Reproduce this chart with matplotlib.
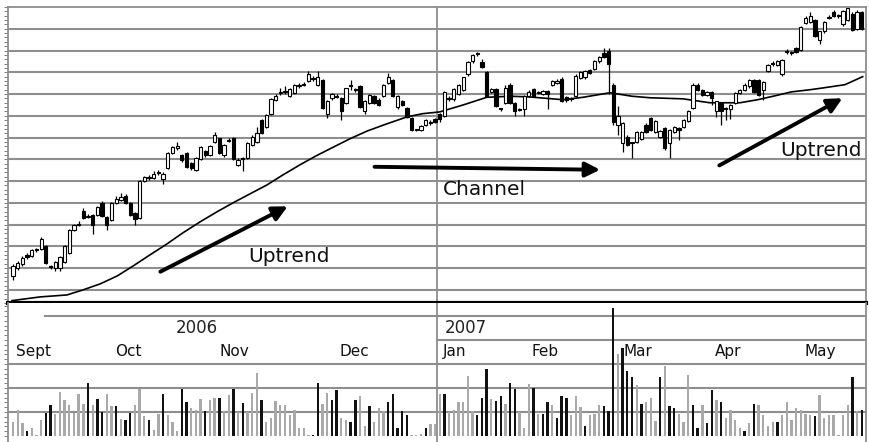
import matplotlib
matplotlib.use("Agg")
import matplotlib.pyplot as plt
import numpy as np

# Daily candles (Sept 2006 - May 2007), price in grid-line units
OPEN = [0.65, 1.0, 1.2, 1.6, 1.55, 1.85, 1.9, 2.0, 1.1, 1.0,
        1.0, 1.3, 1.7, 2.75, 3.0, 3.65, 3.35, 3.45, 3.45, 4.0,
        3.35, 3.2, 4.0, 4.15, 4.3, 4.0, 3.55, 3.3, 5.0, 5.15,
        5.15, 5.38, 5.1, 5.6, 6.3, 6.5, 6.2, 6.3, 5.85, 5.5,
        6.0, 6.4, 6.2, 6.8, 6.97, 6.2, 6.85, 7.0, 5.75, 6.05,
        6.05, 6.65, 6.8, 7.8, 7.5, 8.1, 8.75, 9.05, 9.1, 8.9,
        9.05, 9.35, 9.45, 9.6, 9.75, 9.4, 9.65, 8.1, 8.8, 8.9,
        8.8, 8.6, 9.4, 9.2, 9.35, 8.2, 8.6, 8.9, 8.75, 8.9,
        9.5, 9.65, 8.4, 8.7, 8.35, 7.9, 7.35, 7.35, 7.6, 7.7,
        7.85, 8.1, 8.0, 8.8, 8.77, 9.0, 9.2, 9.9, 10.5, 10.82,
        10.46, 10.0, 9.1, 9.23, 8.32, 8.6, 9.4, 8.6, 8.3, 8.3,
        8.9, 9.23, 9.05, 9.0, 9.15, 9.4, 9.5, 9.7, 8.85, 8.78,
        8.9, 9.75, 9.77, 10.1, 10.15, 10.5, 10.9, 11.0, 9.4, 7.6,
        6.74, 7.05, 6.76, 6.8, 6.95, 7.6, 7.9, 7.27, 7.05, 7.43,
        6.74, 7.27, 7.45, 7.5, 7.75, 8.35, 9.43, 9.2, 8.97, 9.1,
        8.2, 8.6, 8.32, 8.3, 8.6, 9.05, 9.2, 9.36, 9.66, 9.66,
        9.2, 10.05, 10.38, 10.35, 9.9, 10.98, 10.92, 11.1, 11.04, 12.27,
        12.3, 12.4, 11.5, 11.88, 12.5, 12.75, 12.62, 12.2, 12.4, 12.7,
        12.0, 12.75]
CLOSE = [1.12, 1.25, 1.45, 1.5, 1.85, 1.83, 2.35, 1.25, 1.05, 1.3,
         1.5, 2.0, 2.75, 3.0, 3.05, 3.3, 3.4, 3.0, 3.8, 3.4,
         3.0, 4.0, 4.2, 4.25, 4.0, 3.45, 3.25, 5.0, 5.2, 5.2,
         5.35, 5.4, 5.35, 6.3, 6.55, 6.6, 5.97, 5.65, 5.6, 6.05,
         6.55, 6.2, 6.6, 7.1, 6.3, 6.65, 6.9, 6.0, 5.97, 6.0,
         6.77, 7.05, 7.23, 7.2, 8.05, 8.75, 8.9, 9.1, 9.15, 9.25,
         9.4, 9.4, 9.43, 9.9, 9.7, 9.8, 8.35, 8.7, 9.0, 8.88,
         8.2, 9.27, 9.38, 9.18, 8.4, 8.7, 8.95, 8.6, 8.5, 9.4,
         9.8, 8.9, 8.9, 8.5, 7.96, 7.35, 7.37, 7.55, 7.8, 7.68,
         7.7, 7.85, 9.1, 8.77, 9.23, 9.4, 9.77, 10.46, 10.8, 10.85,
         10.23, 8.9, 9.25, 8.46, 8.3, 9.3, 8.6, 8.23, 8.28, 8.9,
         9.1, 8.9, 9.1, 9.15, 9.0, 9.6, 9.62, 8.7, 8.72, 8.8,
         9.85, 10.0, 10.08, 9.95, 10.5, 10.7, 10.7, 10.4, 7.7, 7.97,
         7.66, 6.66, 6.74, 7.27, 7.27, 7.27, 7.35, 7.75, 7.3, 6.5,
         7.35, 7.5, 7.35, 7.8, 8.2, 9.43, 9.2, 8.97, 9.1, 8.8,
         8.66, 8.2, 8.3, 8.5, 9.05, 9.2, 9.43, 9.66, 9.1, 8.97,
         9.55, 10.35, 10.4, 10.5, 10.58, 10.95, 10.9, 10.95, 12.1, 12.5,
         12.6, 11.65, 11.88, 12.3, 12.55, 12.6, 12.6, 12.8, 12.95, 11.95,
         12.75, 12.0]
HIGH = [1.2, 1.35, 1.55, 1.7, 1.9, 1.95, 2.45, 2.05, 1.15, 1.35,
        1.55, 2.05, 2.8, 3.05, 3.15, 3.75, 3.5, 3.5, 3.85, 4.1,
        3.4, 4.05, 4.3, 4.45, 4.4, 4.05, 3.6, 5.05, 5.25, 5.3,
        5.45, 5.5, 5.4, 6.35, 6.6, 6.8, 6.25, 6.35, 5.9, 6.1,
        6.6, 6.45, 6.65, 7.25, 7.0, 6.7, 7.0, 7.05, 6.05, 6.1,
        6.8, 7.1, 7.5, 7.85, 8.1, 8.8, 9.0, 9.3, 9.35, 9.3,
        9.45, 9.5, 9.55, 10.05, 9.85, 10.05, 9.7, 8.75, 9.05, 9.0,
        8.85, 9.3, 9.65, 9.3, 9.4, 8.75, 9.0, 8.95, 8.8, 9.45,
        9.95, 9.7, 8.95, 8.75, 8.4, 7.95, 7.4, 7.6, 7.85, 7.8,
        7.9, 8.15, 9.15, 8.9, 9.3, 9.45, 9.8, 10.5, 10.85, 10.95,
        10.6, 10.05, 9.3, 9.3, 8.35, 9.4, 9.5, 8.65, 8.35, 8.95,
        9.2, 9.3, 9.15, 9.2, 9.2, 9.65, 9.7, 9.8, 8.9, 8.85,
        9.9, 10.05, 10.1, 10.15, 10.55, 10.75, 11.1, 11.1, 9.5, 8.45,
        7.7, 7.1, 6.8, 7.3, 7.3, 7.65, 7.95, 7.8, 7.35, 7.5,
        7.4, 7.55, 7.5, 7.85, 8.25, 9.5, 9.5, 9.25, 9.15, 9.15,
        8.7, 8.65, 8.4, 8.55, 9.1, 9.25, 9.5, 9.7, 9.7, 9.7,
        9.6, 10.4, 10.5, 10.55, 10.62, 11.05, 11.0, 11.15, 12.15, 12.6,
        12.75, 12.45, 11.9, 12.35, 12.65, 12.85, 12.7, 12.85, 13.0, 12.75,
        12.85, 12.8]
LOW = [0.45, 0.9, 1.1, 1.4, 1.5, 1.75, 1.85, 1.2, 0.95, 0.85,
       0.85, 1.25, 1.65, 2.7, 2.95, 3.25, 3.3, 2.55, 3.4, 3.35,
       2.75, 3.15, 3.95, 4.1, 3.95, 3.4, 3.0, 3.25, 4.95, 5.05,
       5.1, 5.3, 4.85, 5.55, 6.25, 6.45, 5.9, 5.6, 5.5, 5.45,
       5.95, 6.1, 6.15, 6.75, 6.25, 6.1, 6.8, 5.95, 5.7, 5.45,
       6.0, 6.6, 6.75, 7.15, 7.45, 8.05, 8.7, 8.95, 9.0, 8.85,
       9.0, 9.3, 9.35, 9.55, 9.6, 9.35, 8.3, 7.9, 8.75, 8.8,
       7.8, 8.55, 9.2, 9.1, 8.35, 8.1, 8.55, 8.55, 8.45, 8.85,
       9.45, 8.85, 8.3, 8.45, 7.9, 7.3, 7.3, 7.3, 7.55, 7.6,
       7.65, 7.7, 7.95, 8.7, 8.7, 8.95, 9.15, 9.85, 10.45, 10.75,
       10.2, 8.85, 9.05, 8.4, 8.2, 8.55, 8.55, 8.0, 8.2, 8.0,
       8.85, 8.85, 9.0, 8.95, 8.3, 9.35, 9.45, 8.65, 8.65, 8.7,
       8.85, 9.7, 9.7, 9.9, 10.1, 10.45, 10.65, 9.0, 7.6, 7.1,
       6.35, 6.6, 6.05, 6.75, 6.9, 7.2, 7.3, 7.2, 7.0, 6.45,
       6.05, 7.2, 6.9, 7.45, 7.7, 8.3, 9.15, 8.9, 8.9, 8.5,
       7.95, 7.6, 7.8, 7.85, 8.55, 9.0, 9.15, 9.3, 9.05, 8.9,
       8.75, 10.0, 10.3, 10.3, 9.85, 10.85, 10.8, 10.9, 11.0, 12.2,
       12.25, 11.6, 11.28, 11.8, 12.45, 12.55, 12.5, 12.15, 12.35, 11.9,
       11.95, 11.95]

# Moving average, read at sample days
MA_DAY = [-0.2, 5.8, 11.5, 14.9, 18.6, 22.2, 25.6, 29.2, 32.8, 36.2,
          39.9, 43.5, 46.9, 50.5, 54.2, 57.6, 61.2, 64.8, 68.2, 71.9,
          75.5, 79.7, 84.0, 87.4, 91.0, 96.0, 101.0, 106.0, 110.0, 117.3,
          121.5, 127.3, 132.0, 135.8, 142.9, 148.6, 155.0, 158.8, 162.5, 166.0,
          170.0, 173.0, 177.4, 181.2]
MA_VAL = [-0.49, -0.32, -0.23, 0.0, 0.28, 0.64, 1.1, 1.61, 2.11, 2.62,
          3.13, 3.59, 4.0, 4.41, 4.83, 5.29, 5.75, 6.18, 6.55, 6.95,
          7.3, 7.63, 7.95, 8.1, 8.18, 8.5, 8.85, 8.9, 8.87, 8.74,
          8.85, 9.06, 8.9, 8.83, 8.78, 8.6, 8.6, 8.74, 8.92, 9.1,
          9.2, 9.29, 9.43, 9.8]

# Volume, in volume grid-line units; b = dark bar, g = light bar
VOLUME = [0.6, 1.1, 0.53, 0.2, 0.35, 0.05, 0.67, 0.96, 1.3, 0.9,
          1.85, 1.5, 1.3, 0.96, 1.77, 1.35, 2.2, 1.3, 1.55, 1.0,
          1.77, 1.25, 1.27, 0.72, 0.67, 0.96, 1.3, 1.95, 0.82, 0.67,
          0.25, 0.9, 1.77, 0.88, 0.57, 0.2, 1.95, 1.42, 1.17, 1.1,
          1.55, 1.05, 1.5, 1.6, 1.6, 1.05, 1.7, 1.97, 1.0, 1.38,
          1.0, 1.8, 2.63, 1.5, 0.6, 0.77, 1.45, 1.3, 1.28, 0.88,
          1.1, 0.35, 0.35, 0.05, 0.05, 2.2, 1.35, 1.8, 1.5, 1.9,
          0.77, 0.67, 0.57, 1.5, 1.67, 0.43, 1.25, 0.57, 1.15, 1.03,
          1.42, 1.77, 0.35, 1.05, 0.86, 0.03, 0.03, 0.1, 0.35, 0.5,
          0.5, 1.77, 1.77, 1.0, 1.1, 1.42, 1.42, 2.5, 1.03, 0.88,
          1.57, 2.8, 1.53, 1.45, 1.67, 1.35, 2.2, 1.95, 1.0, 0.35,
          2.17, 2.0, 0.9, 0.9, 1.42, 1.3, 0.77, 1.67, 1.57, 0.86,
          1.67, 1.2, 0.41, 0.86, 0.9, 1.3, 1.27, 1.05, 5.35, 3.4,
          3.67, 2.7, 2.47, 2.14, 1.35, 1.42, 1.6, 0.63, 2.47, 2.9,
          1.25, 1.17, 0.9, 0.6, 2.55, 1.28, 0.35, 1.3, 0.53, 1.9,
          1.5, 1.42, 0.77, 1.1, 0.67, 0.35, 0.2, 0.53, 1.35, 1.28,
          0.86, 0.43, 0.6, 0.6, 0.88, 1.42, 0.67, 1.15, 1.1, 0.9,
          0.86, 0.82, 1.7, 0.77, 0.88, 0.86, 0.05, 0.88, 1.3, 2.47,
          1.03, 1.1]
VOL_SHADE = ("gggbgggbbg" "ggggggbgbb" "ggbgbbgggb" "ggbgggbbgg" "gbggbggbgb"
             "gggbgggggg" "ggggbbggbb" "ggbbggbggg" "bbbbbgggbg" "ggbggggggb"
             "bbgbbgbbgg" "gbgbbgbbbg" "ggbgggbbbg" "bbbgbgggbg" "bbgggbbgbb"
             "gbggggbgbg" "gggbgggggg" "gbgggggggb" "gb")

MONTHS = ["Sept", "Oct", "Nov", "Dec", "Jan", "Feb", "Mar", "Apr", "May"]
MONTH_DAY = [4.4, 24.6, 47.3, 72.7, 94.1, 113.4, 133.2, 152.6, 172.2]
YEAR_BREAK = 90.5

GRID = "#8e8e8e"

fig = plt.figure(figsize=(8.69, 4.42), dpi=100)
ax = fig.add_axes([8 / 869, 139 / 442, 858 / 869, 296 / 442])
axv = fig.add_axes([8 / 869, 0, 858 / 869, 139 / 442], sharex=ax)

days = np.arange(len(CLOSE))
o = np.array(OPEN)
c = np.array(CLOSE)

# Price panel
for k in range(13):
    ax.axhline(k, color=GRID, lw=1.5, zorder=0)
ax.axvline(YEAR_BREAK, color=GRID, lw=1.3, zorder=0)

ax.vlines(days, LOW, HIGH, color="black", lw=0.9, zorder=2)
up = c >= o
body = np.maximum(np.abs(c - o), 0.05)
ax.bar(days[up], body[up], bottom=np.minimum(o, c)[up], width=0.7,
       facecolor="white", edgecolor="black", lw=0.8, zorder=3)
ax.bar(days[~up], body[~up], bottom=np.minimum(o, c)[~up], width=0.7,
       facecolor="black", edgecolor="black", lw=0.8, zorder=3)
ax.plot(MA_DAY, MA_VAL, color="black", lw=1.2, zorder=2, solid_joinstyle="round")

ax.annotate("", xy=(59.1, 3.9), xytext=(30.9, 0.78),
            arrowprops=dict(arrowstyle="-|>", lw=2.8, color="black", mutation_scale=22))
ax.annotate("", xy=(125.8, 5.52), xytext=(76.5, 5.66),
            arrowprops=dict(arrowstyle="-|>", lw=2.8, color="black", mutation_scale=22))
ax.annotate("", xy=(177.4, 8.87), xytext=(150.1, 5.66),
            arrowprops=dict(arrowstyle="-|>", lw=2.8, color="black", mutation_scale=22))
ax.text(58.8, 1.52, "Uptrend", fontsize=14.5, ha="center", va="center", color="#111")
ax.text(100.6, 4.6, "Channel", fontsize=14.5, ha="center", va="center", color="#111")
ax.text(172.3, 6.39, "Uptrend", fontsize=14.5, ha="center", va="center", color="#111")

ax.set_xlim(-1.07, 181.9)
ax.set_ylim(-0.6, 13.0)
ax.set_yticks(range(0, 14))
ax.set_yticks(np.arange(-0.6, 13.0, 0.2), minor=True)
ax.tick_params(axis="y", which="both", direction="out", length=3, width=0.6,
               color="#666", labelleft=False)
ax.tick_params(axis="x", which="both", bottom=False, labelbottom=False)
for side in ("top", "left", "right"):
    ax.spines[side].set_color(GRID)
    ax.spines[side].set_linewidth(1.3)
ax.spines["bottom"].set_color("black")
ax.spines["bottom"].set_linewidth(3)
ax.spines["bottom"].set_zorder(5)

# Volume panel
colors = ["#111111" if s == "b" else "#a9a9a9" for s in VOL_SHADE]
for v in (1, 2, 3):
    axv.axhline(v, color=GRID, lw=1.5, zorder=0)
axv.plot([YEAR_BREAK, 181.9], [4, 4], color=GRID, lw=1.5, zorder=0)
axv.plot([6.8, 181.9], [5, 5], color=GRID, lw=1.5, zorder=0)
axv.axvline(YEAR_BREAK, color=GRID, lw=1.3, zorder=0)
axv.bar(days, VOLUME, width=0.5, color=colors, zorder=2)

axv.text(39.2, 4.5, "2006", fontsize=12, ha="center", va="center", color="#222")
axv.text(92.0, 4.5, "2007", fontsize=12, ha="left", va="center", color="#222")
for name, d in zip(MONTHS, MONTH_DAY):
    axv.text(d, 3.5, name, fontsize=11, ha="center", va="center", color="#111")

axv.set_ylim(-0.25, 5.54)
axv.set_yticks(range(0, 6))
axv.set_yticks(np.arange(0, 5.5, 0.2), minor=True)
axv.tick_params(axis="y", which="both", direction="out", length=3, width=0.6,
                color="#666", labelleft=False)
axv.tick_params(axis="x", which="both", bottom=False, labelbottom=False)
axv.spines["top"].set_visible(False)
axv.spines["bottom"].set_visible(False)
for side in ("left", "right"):
    axv.spines[side].set_color(GRID)
    axv.spines[side].set_linewidth(1.3)

fig.savefig("out.png", dpi=100)
